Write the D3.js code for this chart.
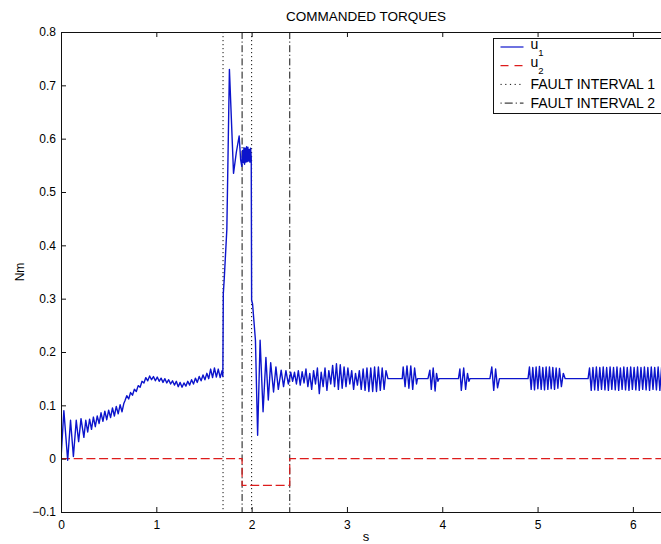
<!DOCTYPE html>
<html>
<head>
<meta charset="utf-8">
<script src="https://cdn.jsdelivr.net/npm/d3@7"></script>
<style>
  body { margin: 0; background: #fff; }
  svg { display: block; font-family: "Liberation Sans", Arial, sans-serif; }
</style>
</head>
<body>
<div id="chart"></div>
<script>
// commanded torque u1 [time s, torque Nm]
const u1 = [
  [0, 0], [0.03, 0.09], [0.07, -0.003], [0.1, 0.072], [0.13, 0.004], [0.16, 0.072], [0.185, 0.032], [0.21, 0.075], [0.24, 0.04],
  [0.26, 0.072], [0.28, 0.05], [0.3, 0.074], [0.32, 0.055], [0.34, 0.078], [0.36, 0.06], [0.38, 0.08], [0.4, 0.066],
  [0.42, 0.086], [0.44, 0.07], [0.46, 0.089], [0.48, 0.073], [0.5, 0.091], [0.52, 0.077], [0.54, 0.095], [0.56, 0.08],
  [0.58, 0.098], [0.6, 0.084], [0.62, 0.101], [0.64, 0.088], [0.66, 0.104], [0.67, 0.108], [0.69, 0.118], [0.71, 0.112],
  [0.73, 0.124], [0.75, 0.119], [0.77, 0.13], [0.79, 0.126], [0.81, 0.137], [0.83, 0.134], [0.85, 0.145], [0.87, 0.142],
  [0.89, 0.152], [0.91, 0.146], [0.93, 0.155], [0.95, 0.148], [0.97, 0.154], [0.99, 0.146], [1.01, 0.153], [1.03, 0.145],
  [1.05, 0.151], [1.07, 0.143], [1.09, 0.15], [1.11, 0.142], [1.13, 0.148], [1.15, 0.14], [1.17, 0.146], [1.19, 0.138],
  [1.21, 0.145], [1.23, 0.135], [1.25, 0.143], [1.27, 0.134], [1.29, 0.142], [1.31, 0.136], [1.33, 0.145], [1.35, 0.138],
  [1.37, 0.148], [1.39, 0.14], [1.41, 0.151], [1.43, 0.143], [1.45, 0.154], [1.47, 0.146], [1.49, 0.157], [1.51, 0.148],
  [1.53, 0.16], [1.55, 0.15], [1.57, 0.168], [1.59, 0.152], [1.61, 0.17], [1.63, 0.153], [1.65, 0.168], [1.67, 0.152],
  [1.69, 0.165], [1.698, 0.154],
  [1.703, 0.31], [1.712, 0.335], [1.74, 0.43], [1.767, 0.73], [1.81, 0.535], [1.84, 0.575], [1.869, 0.605], [1.885, 0.56],
  [1.897, 0.548], [1.905, 0.578], [1.912, 0.555], [1.919, 0.583], [1.926, 0.552], [1.933, 0.582], [1.94, 0.556],
  [1.947, 0.585], [1.954, 0.557], [1.961, 0.584], [1.968, 0.558], [1.975, 0.58], [1.982, 0.556], [1.989, 0.582], [1.996, 0.565],
  [2.0, 0.297], [2.01, 0.29], [2.04, 0.222], [2.063, 0.044], [2.089, 0.222], [2.12, 0.088], [2.15, 0.19], [2.175, 0.11],
  [2.2, 0.18], [2.23, 0.125], [2.255, 0.172], [2.28, 0.13], [2.31, 0.166], [2.335, 0.135], [2.36, 0.165], [2.385, 0.14],
  [2.41, 0.162], [2.43, 0.145], [2.45, 0.162], [2.47, 0.14], [2.49, 0.165], [2.51, 0.138], [2.53, 0.163], [2.55, 0.142],
  [2.57, 0.168], [2.59, 0.135], [2.61, 0.16], [2.63, 0.13], [2.65, 0.165], [2.67, 0.14], [2.69, 0.17], [2.71, 0.122],
  [2.73, 0.162], [2.75, 0.135], [2.77, 0.17], [2.79, 0.128], [2.81, 0.165], [2.83, 0.14], [2.85, 0.175], [2.87, 0.135],
  [2.89, 0.178], [2.91, 0.13], [2.93, 0.176], [2.95, 0.132], [2.97, 0.172], [2.99, 0.135], [3.01, 0.17], [3.03, 0.14],
  [3.05, 0.165], [3.07, 0.13], [3.09, 0.16], [3.11, 0.138], [3.13, 0.165], [3.15, 0.13], [3.17, 0.168], [3.19, 0.128],
  [3.21, 0.17], [3.23, 0.126], [3.25, 0.17], [3.27, 0.126], [3.29, 0.172], [3.31, 0.126], [3.33, 0.172], [3.35, 0.128],
  [3.37, 0.17], [3.39, 0.13], [3.41, 0.165], [3.43, 0.15],
  [3.58, 0.15], [3.59, 0.172], [3.61, 0.135], [3.63, 0.174], [3.65, 0.132], [3.67, 0.174], [3.69, 0.13], [3.71, 0.17],
  [3.73, 0.14], [3.74, 0.15],
  [3.85, 0.15], [3.87, 0.166], [3.885, 0.13], [3.905, 0.17], [3.925, 0.127], [3.94, 0.16], [3.955, 0.145], [3.965, 0.15],
  [4.17, 0.15], [4.185, 0.168], [4.2, 0.128], [4.225, 0.17], [4.245, 0.13], [4.265, 0.16], [4.28, 0.145], [4.29, 0.15],
  [4.5, 0.15], [4.52, 0.172], [4.54, 0.128], [4.56, 0.168], [4.58, 0.133], [4.6, 0.15],
  [4.9, 0.15], [4.915, 0.172], [4.933, 0.13], [4.95, 0.171], [4.968, 0.129], [4.985, 0.172], [5.003, 0.131], [5.02, 0.173],
  [5.038, 0.13], [5.055, 0.171], [5.073, 0.129], [5.09, 0.172], [5.108, 0.13], [5.125, 0.172], [5.143, 0.131],
  [5.16, 0.171], [5.178, 0.13], [5.195, 0.17], [5.213, 0.132], [5.23, 0.169], [5.25, 0.135], [5.27, 0.16], [5.29, 0.15],
  [5.53, 0.15], [5.545, 0.17], [5.563, 0.128], [5.581, 0.171], [5.599, 0.129], [5.617, 0.172], [5.635, 0.128],
  [5.653, 0.171], [5.671, 0.13], [5.689, 0.172], [5.707, 0.129], [5.725, 0.171], [5.743, 0.128], [5.761, 0.172],
  [5.779, 0.13], [5.797, 0.171], [5.815, 0.129], [5.833, 0.172], [5.851, 0.128], [5.869, 0.17], [5.887, 0.13],
  [5.905, 0.172], [5.923, 0.129], [5.941, 0.171], [5.959, 0.128], [5.977, 0.172], [5.995, 0.13], [6.013, 0.171],
  [6.031, 0.129], [6.049, 0.172], [6.067, 0.128], [6.085, 0.171], [6.103, 0.13], [6.121, 0.172], [6.139, 0.129],
  [6.157, 0.171], [6.175, 0.128], [6.193, 0.172], [6.211, 0.13], [6.229, 0.171], [6.247, 0.129], [6.265, 0.172],
  [6.283, 0.128], [6.301, 0.171], [6.319, 0.13], [6.337, 0.172], [6.355, 0.129], [6.373, 0.171], [6.391, 0.13]
];

// commanded torque u2
const u2 = [[0, 0], [1.9, 0], [1.9, -0.05], [2.4, -0.05], [2.4, 0], [6.4, 0]];

const faultInterval1 = [1.7, 2.0];
const faultInterval2 = [1.9, 2.4];

const xTicks = [0, 1, 2, 3, 4, 5, 6];
const yTicks = [-0.1, 0, 0.1, 0.2, 0.3, 0.4, 0.5, 0.6, 0.7, 0.8];
const xDomain = [0, 6.4];
const yDomain = [-0.1, 0.8];

const legendItems = ['u1', 'u2', 'FAULT INTERVAL 1', 'FAULT INTERVAL 2'];

const width = 661;
const height = 544;
const margin = { top: 32, right: -10, bottom: 32, left: 61 };

const usableArea = {
  top: margin.top,
  right: width - margin.right,
  bottom: height - margin.bottom,
  left: margin.left,
};

const svg = d3
  .select('#chart')
  .append('svg')
  .attr('width', width)
  .attr('height', height);

const xScale = d3.scaleLinear().domain(xDomain).range([usableArea.left, usableArea.right]);
const yScale = d3.scaleLinear().domain(yDomain).range([usableArea.bottom, usableArea.top]);

svg.append('defs').append('clipPath').attr('id', 'plot-clip')
  .append('rect')
  .attr('x', usableArea.left)
  .attr('y', usableArea.top)
  .attr('width', usableArea.right - usableArea.left)
  .attr('height', usableArea.bottom - usableArea.top);

const plot = svg.append('g').attr('clip-path', 'url(#plot-clip)');

const line = d3.line().x((d) => xScale(d[0])).y((d) => yScale(d[1]));

// fault interval markers
const vlines = [
  ...faultInterval1.map((t) => ({ t, dash: '1.2,2.8' })),
  ...faultInterval2.map((t) => ({ t, dash: '7,2.5,1.2,2.5' })),
];
plot.selectAll('line.fault')
  .data(vlines)
  .join('line')
  .attr('class', 'fault')
  .attr('x1', (d) => xScale(d.t))
  .attr('x2', (d) => xScale(d.t))
  .attr('y1', usableArea.top)
  .attr('y2', usableArea.bottom)
  .attr('stroke', '#111')
  .attr('stroke-width', 1)
  .attr('stroke-dasharray', (d) => d.dash);

plot.append('path')
  .datum(u2)
  .attr('d', line)
  .attr('fill', 'none')
  .attr('stroke', '#dd1c1c')
  .attr('stroke-width', 1.2)
  .attr('stroke-dasharray', '9,3.7');

plot.append('path')
  .datum(u1)
  .attr('d', line)
  .attr('fill', 'none')
  .attr('stroke', '#0c14cc')
  .attr('stroke-width', 1.4)
  .attr('stroke-linejoin', 'round');

// axes, MATLAB style ticks pointing inward
const fmt = (d) => (d === 0 ? '0' : d3.format('.1f')(d));

svg.append('g')
  .attr('transform', `translate(0, ${usableArea.bottom})`)
  .call(d3.axisBottom(xScale).tickValues(xTicks).tickFormat(d3.format('d'))
    .tickSizeInner(-5).tickSizeOuter(0).tickPadding(8));

svg.append('g')
  .attr('transform', `translate(0, ${usableArea.top})`)
  .call(d3.axisTop(xScale).tickValues(xTicks).tickFormat('').tickSizeInner(-5).tickSizeOuter(0));

svg.append('g')
  .attr('transform', `translate(${usableArea.left}, 0)`)
  .call(d3.axisLeft(yScale).tickValues(yTicks).tickFormat(fmt).tickSizeInner(-5).tickSizeOuter(0).tickPadding(5));

svg.selectAll('.domain').remove();
svg.selectAll('.tick line').attr('stroke', '#111');
svg.selectAll('.tick text').attr('font-size', 12).attr('fill', '#000')
  .attr('font-family', '"Liberation Sans", Arial, sans-serif');

svg.append('rect')
  .attr('x', usableArea.left + 0.5)
  .attr('y', usableArea.top + 0.5)
  .attr('width', usableArea.right - usableArea.left)
  .attr('height', usableArea.bottom - usableArea.top)
  .attr('fill', 'none')
  .attr('stroke', '#111')
  .attr('stroke-width', 1);

// labels
svg.append('text')
  .attr('x', (usableArea.left + usableArea.right) / 2)
  .attr('y', 21)
  .attr('text-anchor', 'middle')
  .attr('font-size', 13.5)
  .text('COMMANDED TORQUES');

svg.append('text')
  .attr('x', (usableArea.left + usableArea.right) / 2)
  .attr('y', 541)
  .attr('text-anchor', 'middle')
  .attr('font-size', 13)
  .text('s');

svg.append('text')
  .attr('transform', `translate(24, ${(usableArea.top + usableArea.bottom) / 2}) rotate(-90)`)
  .attr('text-anchor', 'middle')
  .attr('font-size', 12)
  .text('Nm');

// legend
const legend = svg.append('g').attr('transform', 'translate(493.5, 38.5)');
legend.append('rect')
  .attr('width', 172)
  .attr('height', 75)
  .attr('fill', '#fff')
  .attr('stroke', '#111');

const sampleStyles = [
  { stroke: '#0c14cc', dash: null },
  { stroke: '#dd1c1c', dash: '8,6' },
  { stroke: '#111', dash: '1.2,3.5' },
  { stroke: '#111', dash: '1.2,3,8,3' },
];

const rows = legend.selectAll('g.row')
  .data(legendItems)
  .join('g')
  .attr('class', 'row')
  .attr('transform', (d, i) => `translate(0, ${8.5 + i * 18.7})`);

rows.append('line')
  .attr('x1', 7)
  .attr('x2', 30)
  .attr('stroke', (d, i) => sampleStyles[i].stroke)
  .attr('stroke-width', (d, i) => (i < 2 ? 1.2 : 1))
  .attr('stroke-dasharray', (d, i) => sampleStyles[i].dash);

rows.each(function (d) {
  const t = d3.select(this).append('text')
    .attr('x', 37)
    .attr('y', 5)
    .attr('font-size', 14);
  if (d[0] === 'u') {
    t.attr('y', 1.5).text('u');
    t.append('tspan').attr('dy', 7).attr('font-size', 9.5).text(d.slice(1));
  } else {
    t.text(d);
  }
});
</script>
</body>
</html>
